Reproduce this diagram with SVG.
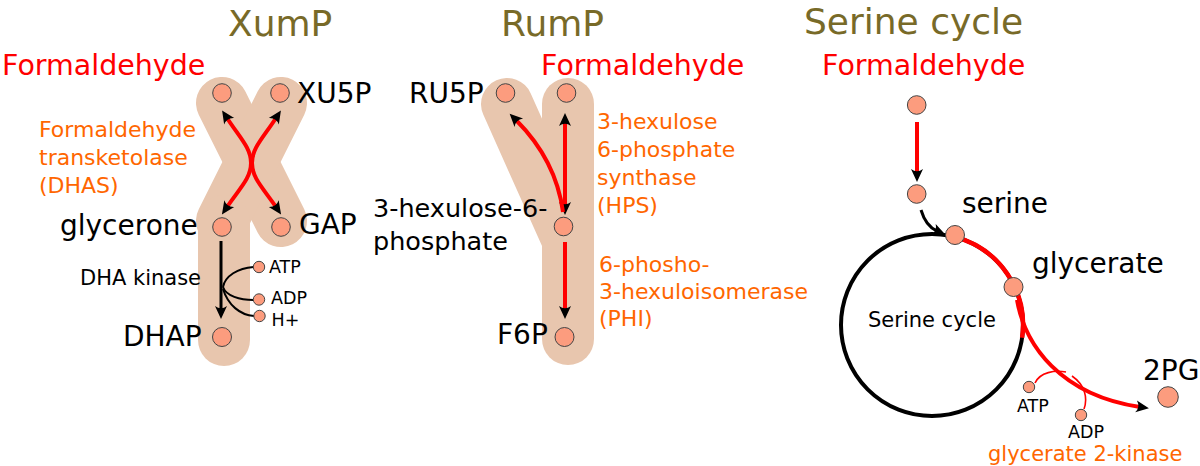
<svg xmlns="http://www.w3.org/2000/svg" width="1200" height="466" viewBox="0 0 1200 466">
<style>
text{font-family:"DejaVu Sans","Verdana",sans-serif;}
.title{font-size:36px;fill:#786a28;}
.form{font-size:28.5px;fill:#ff0000;}
.lbl{font-size:28px;fill:#000;}
.enz{font-size:22px;fill:#ff6600;}
.sm{font-size:17.5px;fill:#000;}
.bg{fill:none;stroke:#e8c6ae;stroke-width:52;stroke-linecap:round;}
.met{fill:#fc9c7e;stroke:#444;stroke-width:1;}
.red{fill:none;stroke:#ff0000;stroke-width:4;}
.blk{fill:none;stroke:#000;stroke-width:3;}
.thin{fill:none;stroke:#000;stroke-width:2;}
.thinr{fill:none;stroke:#ff0000;stroke-width:1.6;}
</style>
<defs>
<marker id="ah" markerUnits="userSpaceOnUse" orient="auto-start-reverse" refX="0" refY="0" markerWidth="30" markerHeight="30" viewBox="-15 -15 30 30" overflow="visible">
<path d="M9,0 L-4,-6 Q0.5,0 -4,6 Z" fill="#000"/>
</marker>
</defs>

<g id="background">
<path class="bg" d="M222,103 L281,221"/>
<path class="bg" d="M281,103 L222,221"/>
<path class="bg" d="M224,221 L224,340"/>
<path class="bg" d="M507,104 L566,236"/>
<path class="bg" d="M568,104 L568,339"/>
</g>

<g id="titles">
<text class="title" x="228" y="35.5">XumP</text>
<text class="title" x="501" y="35.5">RumP</text>
<text class="title" x="804" y="33.5">Serine cycle</text>
</g>

<g id="connectors">
<path class="red" d="M227,118 C240,138 251,148 251,163 C251,178 240,188 227,207" marker-start="url(#ah)" marker-end="url(#ah)"/>
<path class="red" d="M276,118 C263,138 252,148 252,163 C252,178 263,188 276,207" marker-start="url(#ah)" marker-end="url(#ah)"/>
<path class="blk" d="M221,241 L221,310" marker-end="url(#ah)"/>
<path class="thin" d="M253.5,267 C238,268 225,276 223,287"/>
<path class="thin" d="M223,287 C226,296 240,300 253.5,300"/>
<path class="thin" d="M223,289 C228,305 240,315 254,316"/>

<path class="red" d="M565,122 L565,206" marker-start="url(#ah)" marker-end="url(#ah)"/>
<path class="red" d="M563,212 Q556,160 516,120" marker-end="url(#ah)"/>
<path class="red" d="M565,242 L565,310" marker-end="url(#ah)"/>

<path class="red" d="M917,122 L917,173" marker-end="url(#ah)"/>
<path class="blk" d="M921,210 C924,220 930,228 937,231" stroke-width="3.5" marker-end="url(#ah)"/>
<circle cx="932" cy="325" r="91" fill="none" stroke="#000" stroke-width="4"/>
<path d="M954,236.7 A91,91 0 0 1 1022.1,337.7" fill="none" stroke="#ff0000" stroke-width="4.5"/>
<path class="red" d="M1017,300 C1025,345 1060,395 1140,407" marker-end="url(#ah)"/>
<path class="thinr" d="M1035,383 C1040,372 1055,370 1066,372"/>
<path class="thinr" d="M1072,376 C1085,385 1088,398 1084,409"/>
</g>

<g id="xump-nodes">
<g id="n-formaldehyde-x"><text class="form" x="2" y="75">Formaldehyde</text><circle class="met" cx="222" cy="93" r="9.3"/></g>
<g id="n-xu5p"><circle class="met" cx="280" cy="93" r="9.3"/><text class="lbl" x="297" y="103">XU5P</text></g>
<g id="n-glycerone"><circle class="met" cx="222" cy="227" r="9.3"/><text class="lbl" x="60" y="235">glycerone</text></g>
<g id="n-gap"><circle class="met" cx="281" cy="227" r="9.3"/><text class="lbl" x="299" y="234">GAP</text></g>
<g id="n-dhap"><circle class="met" cx="222" cy="337" r="9.5"/><text class="lbl" x="123" y="346">DHAP</text></g>
<g id="n-atp1"><circle class="met" cx="259" cy="267" r="5.7"/><text class="sm" x="269" y="273">ATP</text></g>
<g id="n-adp1"><circle class="met" cx="259" cy="299.5" r="5.7"/><text class="sm" x="271" y="304">ADP</text></g>
<g id="n-h1"><circle class="met" cx="259.5" cy="316" r="5.7"/><text class="sm" x="271.5" y="326">H+</text></g>
<g id="e-dhas"><text class="enz" x="39" y="137">Formaldehyde</text><text class="enz" x="39" y="165">transketolase</text><text class="enz" x="39" y="193">(DHAS)</text></g>
<g id="e-dhak"><text x="80" y="285" font-size="21" fill="#000">DHA kinase</text></g>
</g>

<g id="rump-nodes">
<g id="n-formaldehyde-r"><text class="form" x="541" y="75">Formaldehyde</text><circle class="met" cx="566.5" cy="93" r="9.3"/></g>
<g id="n-ru5p"><circle class="met" cx="505.5" cy="93" r="9.3"/><text class="lbl" x="409" y="103">RU5P</text></g>
<g id="n-h6p"><circle class="met" cx="563.5" cy="226.5" r="9.3"/><text x="373" y="217" font-size="25.5" fill="#000">3-hexulose-6-</text><text x="373" y="250" font-size="25.5" fill="#000">phosphate</text></g>
<g id="n-f6p"><circle class="met" cx="564.5" cy="337" r="9.5"/><text class="lbl" x="497" y="344">F6P</text></g>
<g id="e-hps"><text class="enz" x="597" y="129">3-hexulose</text><text class="enz" x="597" y="157">6-phosphate</text><text class="enz" x="597" y="185">synthase</text><text class="enz" x="597" y="213">(HPS)</text></g>
<g id="e-phi"><text class="enz" x="599" y="272">6-phosho-</text><text class="enz" x="599" y="299">3-hexuloisomerase</text><text class="enz" x="599" y="326">(PHI)</text></g>
</g>

<g id="serine-nodes">
<g id="n-formaldehyde-s"><text class="form" x="822" y="75">Formaldehyde</text><circle class="met" cx="916.7" cy="105" r="9.3"/></g>
<g id="n-mid"><circle class="met" cx="916.7" cy="194" r="9.3"/></g>
<g id="n-serine"><circle class="met" cx="955" cy="235" r="9.5"/><text class="lbl" x="962" y="213">serine</text></g>
<g id="n-glycerate"><circle class="met" cx="1013.5" cy="287" r="9.5"/><text class="lbl" x="1032" y="273">glycerate</text></g>
<g id="n-cycle"><text x="868" y="327" font-size="21" fill="#000">Serine cycle</text></g>
<g id="n-2pg"><circle class="met" cx="1168" cy="397" r="10.3"/><text class="lbl" x="1143" y="380">2PG</text></g>
<g id="n-atp2"><circle class="met" cx="1029" cy="387" r="5.7"/><text class="sm" x="1017" y="412">ATP</text></g>
<g id="n-adp2"><circle class="met" cx="1081" cy="415" r="5.7"/><text class="sm" x="1068" y="438">ADP</text></g>
<g id="e-g2k"><text x="988" y="461" font-size="21" fill="#ff6600">glycerate 2-kinase</text></g>
</g>
</svg>
